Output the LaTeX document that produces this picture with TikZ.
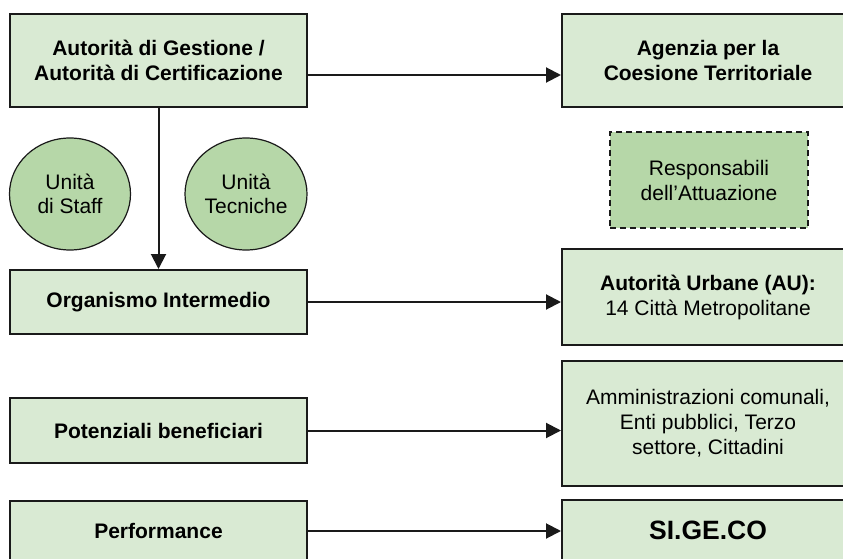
\documentclass[tikz,border=0pt]{standalone}
\usepackage{fontspec}
\setmainfont{Liberation Sans}
\usetikzlibrary{arrows.meta,shapes.geometric}
\definecolor{boxfill}{HTML}{D9EAD3}
\definecolor{darkfill}{HTML}{B6D7A8}
\definecolor{edge}{HTML}{1A1A1A}
\tikzset{
  box/.style={draw=edge, fill=boxfill, line width=2pt, rectangle, inner sep=0pt, align=center, font=\fontsize{21}{25}\selectfont},
  unit/.style={draw=edge, fill=darkfill, line width=1.2pt, ellipse, inner sep=0pt, minimum width=121pt, minimum height=112pt, align=center, font=\fontsize{21}{24}\selectfont},
  dashbox/.style={draw=edge, fill=darkfill, line width=2pt, dash pattern=on 6pt off 4pt, rectangle, inner sep=0pt, align=center, font=\fontsize{21}{25}\selectfont},
  arr/.style={draw=edge, line width=2pt, -{Triangle[length=15pt,width=15pt]}},
}
\begin{document}
\begin{tikzpicture}[x=1pt,y=-1pt]
\useasboundingbox (0,0) rectangle (843,559);
\clip (0,0) rectangle (843,559);
\fill[white] (0,0) rectangle (843,559);
% left column
\node[box, minimum width=297pt, minimum height=93pt] (b1) at (158.5,60.5) {\bfseries Autorità di Gestione /\\\bfseries Autorità di Certificazione};
\node[box, minimum width=297pt, minimum height=64pt] (org) at (158.5,302) {\bfseries Organismo Intermedio};
\node[box, minimum width=297pt, minimum height=65pt] (pot) at (158.5,430.5) {\bfseries Potenziali beneficiari};
\node[box, minimum width=297pt, minimum height=60pt] (perf) at (158.5,531) {\bfseries Performance};
% circles
\node[unit] (staff) at (70,194) {Unità\\di Staff};
\node[unit, minimum width=122pt] (tec) at (246,194) {Unità\\Tecniche};
% right column
\node[box, minimum width=292pt, minimum height=93pt] (ag) at (708,60.5) {\bfseries Agenzia per la\\\bfseries Coesione Territoriale};
\node[dashbox, minimum width=198pt, minimum height=96pt] (resp) at (709,180) {Responsabili\\dell’Attuazione};
\node[box, minimum width=292pt, minimum height=96pt] (au) at (708,297) {\bfseries Autorità Urbane (AU):\\14 Città Metropolitane};
\node[box, minimum width=292pt, minimum height=125pt] (amm) at (708,423.5) {Amministrazioni comunali,\\Enti pubblici, Terzo\\settore, Cittadini};
\node[box, minimum width=292pt, minimum height=61pt, font=\fontsize{26.5}{30}\selectfont\bfseries] (sig) at (708,530.5) {SI.GE.CO};
% connectors
\coordinate (y75) at (0,75);
\draw[arr] (b1.east |- y75) -- (ag.west |- y75);
\draw[arr] (b1.south) -- (org.north);
\draw[arr] (org.east) -- (org.east -| au.west);
\draw[arr] (pot.east) -- (pot.east -| amm.west);
\draw[arr] (perf.east) -- (perf.east -| sig.west);
\end{tikzpicture}
\end{document}
